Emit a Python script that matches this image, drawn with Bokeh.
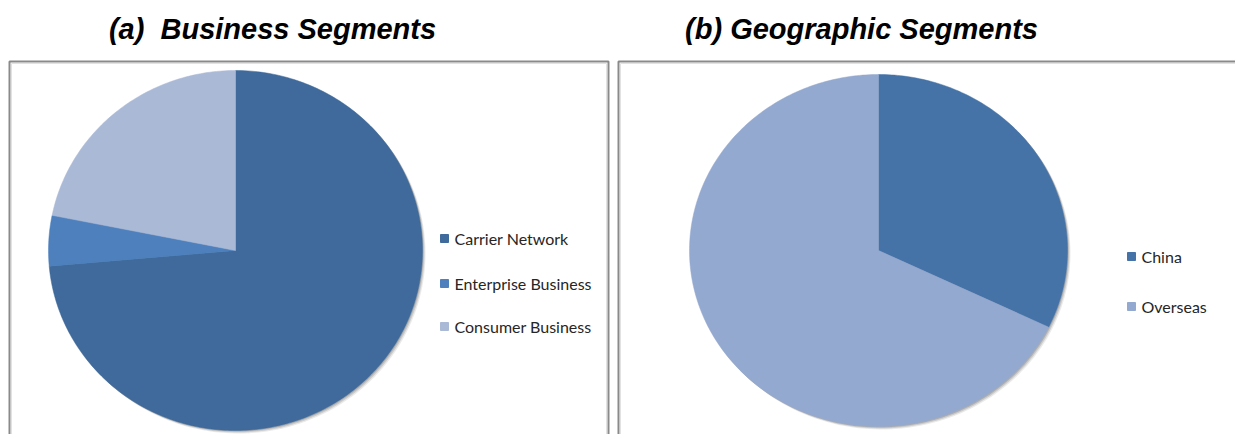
import numpy as np
from bokeh.plotting import figure
from bokeh.models import Range1d, ColumnDataSource
from bokeh.core.properties import value
from bokeh.embed import file_html
from bokeh.resources import INLINE

# ---- data (Huawei revenue, CNY bn) ----
business_segments = ["Carrier Network", "Enterprise Business", "Consumer Business"]
business_values = [150.1, 9.2, 44.6]
business_colors = ["#3F6A9B", "#4D80BD", "#AAB9D6"]

geo_segments = ["China", "Overseas"]
geo_values = [65.6, 138.3]
geo_colors = ["#4573A7", "#94A9CF"]

titles = ["(a)\u00a0 Business Segments", "(b) Geographic Segments"]

W, H = 1235, 434
p = figure(width=W, height=H, output_backend="svg", toolbar_location=None,
           x_range=Range1d(0, W), y_range=Range1d(H, 0),
           min_border=0, outline_line_color=None, background_fill_color="white")
p.xaxis.visible = False
p.yaxis.visible = False
p.xgrid.visible = False
p.ygrid.visible = False

# panel frames
p.quad(left=[9, 618], right=[608, 1260], top=[61, 61], bottom=[460, 460],
       fill_color=None, line_color="#8a8a8a", line_width=2)
p.quad(left=[11, 620], right=[606, 1260], top=[63, 63], bottom=[460, 460],
       fill_color=None, line_color="#e2e2e2", line_width=1)


def pie(cx, cy, rx, ry, vals, colors):
    # drop shadow
    t = np.linspace(0, 2 * np.pi, 200)
    for off, a in [(3, 0.12), (2, 0.2), (1, 0.25)]:
        p.patch(cx + off + rx * np.cos(t), cy + off + ry * np.sin(t),
                fill_color="#555555", fill_alpha=a, line_color=None)
    fr = np.array(vals, dtype=float) / sum(vals)
    ends = np.cumsum(fr)
    starts = ends - fr
    xs, ys = [], []
    for s, e in zip(starts, ends):
        a0 = np.pi / 2 - 2 * np.pi * s
        a1 = np.pi / 2 - 2 * np.pi * e
        n = max(3, int(abs(a1 - a0) * 60))
        th = np.linspace(a0, a1, n)
        xs.append(np.concatenate([[cx], cx + rx * np.cos(th), [cx]]))
        ys.append(np.concatenate([[cy], cy - ry * np.sin(th), [cy]]))
    p.patches(xs, ys, fill_color=colors, line_color=colors, line_width=0.5)


pie(235, 250, 187, 180, business_values, business_colors)
pie(878, 250, 189, 176, geo_values, geo_colors)


def legend(x, ys, labels, colors):
    src = ColumnDataSource(dict(x=[x] * len(labels), y=ys, t=labels, c=colors))
    p.scatter("x", "y", source=src, marker="square", size=8,
              fill_color="c", line_color="c")
    p.text(x=x + 10, y="y", text="t", source=src, text_font=value("Lato"),
           text_font_size="16px", text_color="#262626", text_baseline="middle")


legend(444, [238, 283, 326], business_segments, business_colors)
legend(1131, [256, 306], geo_segments, geo_colors)

p.text(x=[272, 861], y=[28, 28], text=titles, text_font=value("Liberation Sans"),
       text_font_size="29px", text_font_style="bold italic", text_color="black",
       text_align="center", text_baseline="middle")

open("out.html", "w").write(file_html(p, INLINE))
